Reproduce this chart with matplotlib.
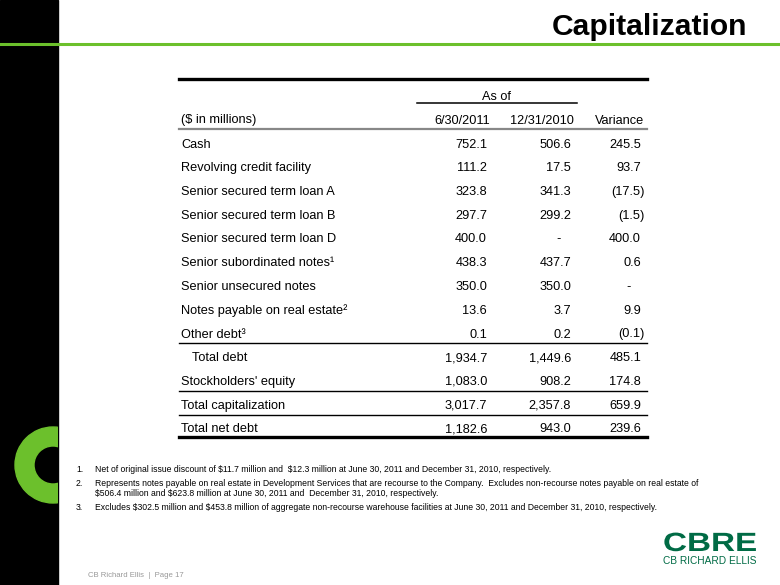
import matplotlib
matplotlib.use('Agg')
import matplotlib.pyplot as plt
from matplotlib.patches import Rectangle, Wedge
from matplotlib import patheffects
from matplotlib.transforms import Affine2D

plt.rcParams['font.family'] = ['Liberation Sans', 'DejaVu Sans']

# table data
row_labels = ['Cash', 'Revolving credit facility', 'Senior secured term loan A',
              'Senior secured term loan B', 'Senior secured term loan D',
              'Senior subordinated notes\u00b9', 'Senior unsecured notes',
              'Notes payable on real estate\u00b2', 'Other debt\u00b3',
              'Total debt', "Stockholders' equity", 'Total capitalization',
              'Total net debt']
col_2011 = ['752.1', '111.2', '323.8', '297.7', '400.0', '438.3', '350.0',
            '13.6', '0.1', '1,934.7', '1,083.0', '3,017.7', '1,182.6']
col_2010 = ['506.6', '17.5', '341.3', '299.2', '-', '437.7', '350.0',
            '3.7', '0.2', '1,449.6', '908.2', '2,357.8', '943.0']
variance = ['245.5', '93.7', '(17.5)', '(1.5)', '400.0', '0.6', '-',
            '9.9', '(0.1)', '485.1', '174.8', '659.9', '239.6']
headers = ['6/30/2011', '12/31/2010', 'Variance']

footnote_nums = ['1.', '2.', '', '3.']
footnote_lines = [
    'Net of original issue discount of $11.7 million and  $12.3 million at June 30, 2011 and December 31, 2010, respectively.',
    'Represents notes payable on real estate in Development Services that are recourse to the Company.  Excludes non-recourse notes payable on real estate of',
    '$506.4 million and $623.8 million at June 30, 2011 and  December 31, 2010, respectively.',
    'Excludes $302.5 million and $453.8 million of aggregate non-recourse warehouse facilities at June 30, 2011 and December 31, 2010, respectively.',
]

green = '#6CC02C'
dark_green = '#006B45'


class Stretch(patheffects.AbstractPathEffect):
    # widen glyphs horizontally (logo lettering)
    def __init__(self, sx):
        super().__init__()
        self.sx = sx

    def draw_path(self, renderer, gc, tpath, affine, rgbFace=None):
        renderer.draw_path(gc, tpath, Affine2D().scale(self.sx, 1) + affine, rgbFace)


fig = plt.figure(figsize=(7.8, 5.85), dpi=100)
ax = fig.add_axes([0, 0, 1, 1])
ax.set_xlim(0, 780)
ax.set_ylim(585, 0)
ax.axis('off')

# left black band, green rule, green ring
ax.add_patch(Rectangle((0, 0), 58, 585, color='black', zorder=1))
ax.plot([0, 780], [43.5, 43.5], color=green, lw=2.2, zorder=2)
clip = Rectangle((0, 0), 58, 585, transform=ax.transData)
ring = Wedge((53, 465), 38, 0, 360, width=19, color=green, zorder=2)
ax.add_patch(ring)
ring.set_clip_path(clip)

ax.text(747, 35, 'Capitalization', ha='right', va='baseline', fontsize=21.6,
        fontweight='bold', color='black')

# table
x_left, x_right = 179, 647
col_x = [487, 571, 641]
fs = 9.2

ax.plot([x_left, x_right], [79, 79], color='black', lw=2.4)
ax.text(497, 99.5, 'As of', ha='center', va='baseline', fontsize=fs)
ax.plot([417, 577], [102.5, 102.5], color='black', lw=1.1)
ax.text(181, 123.5, '($ in millions)', ha='left', va='baseline', fontsize=fs)
for h, x in zip(headers, col_x):
    ax.text(x + 3, 123.5, h, ha='right', va='baseline', fontsize=fs)
ax.plot([x_left, x_right], [129, 129], color='#888888', lw=1.6)

y0, step = 143, 23.75
for i, lab in enumerate(row_labels):
    yb = y0 + i * step + 4.5
    indent = 11 if lab == 'Total debt' else 0
    ax.text(181 + indent, yb, lab, ha='left', va='baseline', fontsize=fs, parse_math=False)
    for vals, x in zip([col_2011, col_2010, variance], col_x):
        v = vals[i]
        if v == '-':
            xx = x - 10
        elif v.startswith('('):
            xx = x + 4
        else:
            xx = x
        ax.text(xx, yb, v, ha='right', va='baseline', fontsize=fs)

for y in [342.5, 390.5, 414.5]:
    ax.plot([x_left, x_right], [y, y], color='black', lw=1.0)
ax.plot([x_left, x_right], [437, 437], color='black', lw=2.4)

# footnotes
fn_y = [472.5, 486.5, 496.5, 509.5]
for num, txt, y in zip(footnote_nums, footnote_lines, fn_y):
    if num:
        ax.text(76, y, num, ha='left', va='baseline', fontsize=6.2)
    ax.text(95, y, txt, ha='left', va='baseline', fontsize=6.2, parse_math=False)

# footer
ax.text(88, 577, 'CB Richard Ellis  |  Page 17', ha='left', va='baseline',
        fontsize=5.6, color='#999999')

# logo
ax.text(663, 551, 'CBRE', ha='left', va='baseline', fontsize=19,
        fontweight='bold', color=dark_green,
        path_effects=[Stretch(1.26)])
ax.text(663, 564.5, 'CB RICHARD ELLIS', ha='left', va='baseline', fontsize=7.3,
        color=dark_green)

fig.savefig('out.png', dpi=100)
